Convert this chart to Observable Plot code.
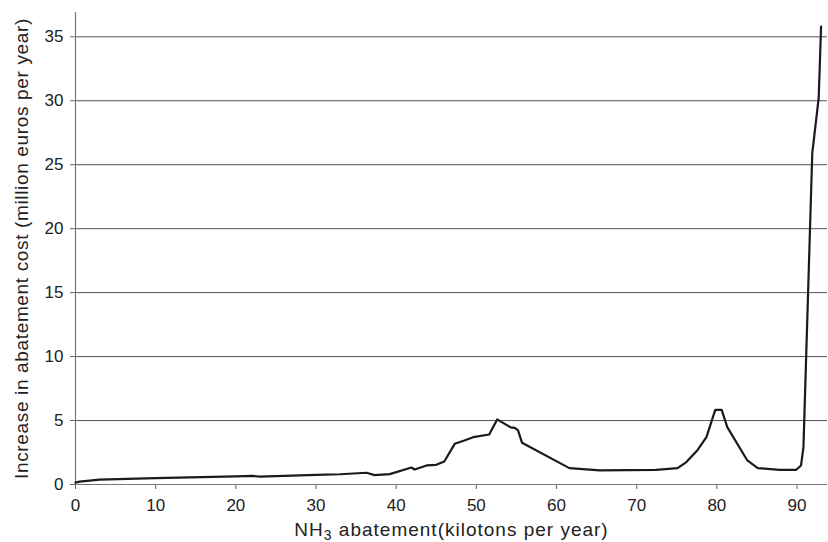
<!DOCTYPE html>
<html>
<head>
<meta charset="utf-8">
<script src="https://cdn.jsdelivr.net/npm/d3@7"></script>
<script src="https://cdn.jsdelivr.net/npm/@observablehq/plot@0.6"></script>
<style>
  html, body { margin: 0; padding: 0; background: #fff; }
  #chart svg { display: block; }
</style>
</head>
<body>
<div id="chart"></div>
<script>
// Abatement (kilotons per year)
const abatement = [0, 0.5, 3, 10, 20, 22, 23, 30, 33, 36.3, 37.3, 39.2, 41.9, 42.3, 43.8, 45.0, 46.0, 47.3, 48.5, 49.6, 51.6, 52.6, 54.3, 54.8, 55.2, 55.7, 61.6, 65.4, 72.4, 75.1, 76.2, 77.6, 78.7, 79.8, 80.6, 81.3, 83.8, 85.1, 87.8, 89.9, 90.5, 90.8, 91.9, 92.7, 93.0];
// Increase in abatement cost (million euros per year)
const costIncrease = [0.15, 0.22, 0.38, 0.5, 0.64, 0.68, 0.62, 0.76, 0.8, 0.92, 0.73, 0.81, 1.33, 1.17, 1.49, 1.54, 1.80, 3.18, 3.44, 3.70, 3.91, 5.09, 4.46, 4.43, 4.23, 3.26, 1.28, 1.10, 1.15, 1.28, 1.75, 2.7, 3.70, 5.84, 5.84, 4.49, 1.88, 1.28, 1.15, 1.15, 1.49, 2.92, 25.9, 30.2, 35.8];
const xTicks = [0, 10, 20, 30, 40, 50, 60, 70, 80, 90];
const yTicks = [0, 5, 10, 15, 20, 25, 30, 35];
const gridTicks = [5, 10, 15, 20, 25, 30, 35];

const data = abatement.map((x, i) => ({x, y: costIncrease[i]}));

const chart = Plot.plot({
  width: 828,
  height: 542,
  marginLeft: 75,
  marginRight: 1,
  marginTop: 12,
  marginBottom: 58,
  style: {fontFamily: "'Liberation Sans', Arial, sans-serif", fontSize: "17px", color: "#222", background: "#fff"},
  x: {domain: [0, 93.8]},
  y: {domain: [0, 36.9]},
  marks: [
    Plot.gridY(gridTicks, {stroke: "#555", strokeOpacity: 1, strokeWidth: 1}),
    Plot.axisX(xTicks, {tickSize: 5, tickPadding: 9, stroke: "#666", fontSize: 17, fill: "#222",
      label: "NH3 abatement(kilotons per year)", labelAnchor: "center", labelArrow: "none", labelOffset: 51}),
    Plot.axisY(yTicks, {tickSize: 5, tickPadding: 7, stroke: "#666", fontSize: 17, fill: "#222",
      label: "Increase in abatement cost (million euros per year)", labelAnchor: "center", labelArrow: "none", labelOffset: 61}),
    Plot.ruleY([0], {stroke: "#777", strokeWidth: 1.2}),
    Plot.ruleX([0], {stroke: "#777", strokeWidth: 1.2}),
    Plot.line(data, {x: "x", y: "y", stroke: "#1a1a1a", strokeWidth: 2.2, strokeLinejoin: "round"})
  ]
});

document.getElementById("chart").append(chart);

// style axis titles and add subscript to NH3
d3.select(chart).selectAll("text").each(function() {
  const t = d3.select(this);
  const s = t.text();
  if (s === "NH3 abatement(kilotons per year)") {
    t.text(null).style("font-size", "19px").style("letter-spacing", "1px");
    t.append("tspan").text("NH");
    t.append("tspan").attr("baseline-shift", "-4").style("font-size", "14px").text("3");
    t.append("tspan").text(" abatement(kilotons per year)");
  } else if (s === "Increase in abatement cost (million euros per year)") {
    t.style("font-size", "19px").style("letter-spacing", "0.65px");
  }
});
</script>
</body>
</html>
